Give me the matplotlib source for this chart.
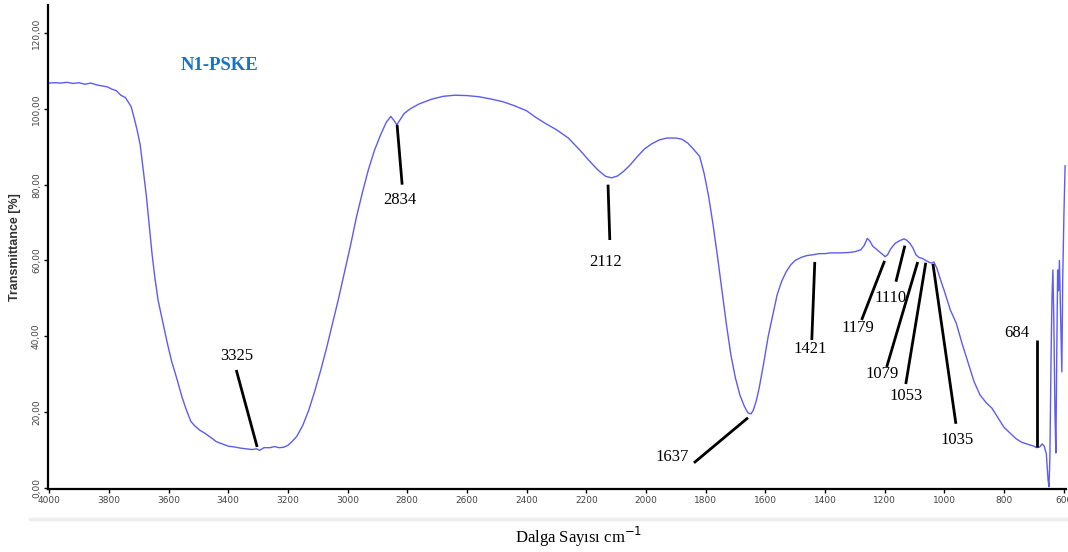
import matplotlib
matplotlib.use("Agg")
import matplotlib.pyplot as plt
from matplotlib.lines import Line2D

# FTIR spectrum (wavenumber cm-1, transmittance %)
wavenumber = [
    4004, 3980, 3960, 3940, 3920, 3900, 3880, 3860, 3840, 3820, 3805, 3790,
    3775, 3760, 3745, 3735, 3725, 3715, 3705, 3695, 3685, 3675, 3665, 3655,
    3645, 3635, 3620, 3605, 3590, 3571, 3555, 3540, 3525, 3510, 3495, 3480,
    3460, 3440, 3420, 3400, 3380, 3360, 3340, 3320, 3305, 3295, 3280, 3260,
    3245, 3230, 3215, 3200, 3185, 3170, 3150, 3130, 3110, 3090, 3070, 3050,
    3030, 3010, 2990, 2970, 2950, 2930, 2910, 2890, 2870, 2855, 2845, 2835,
    2825, 2810, 2790, 2760, 2720, 2680, 2640, 2600, 2560, 2520, 2480, 2440,
    2400, 2370, 2340, 2300, 2260, 2220, 2190, 2160, 2135, 2115, 2095, 2075,
    2055, 2030, 2005, 1980, 1955, 1930, 1900, 1880, 1860, 1840, 1820, 1805,
    1790, 1775, 1760, 1745, 1730, 1715, 1700, 1685, 1670, 1658, 1648, 1640,
    1630, 1620, 1605, 1590, 1575, 1560, 1545, 1530, 1515, 1500, 1480, 1460,
    1440, 1420, 1400, 1380, 1350, 1320, 1300, 1280, 1268, 1258, 1250, 1240,
    1225, 1210, 1198, 1190, 1180, 1165, 1150, 1135, 1125, 1115, 1105, 1095,
    1085, 1075, 1062, 1050, 1042, 1035, 1025, 1015, 1000, 980, 960, 940,
    920, 900, 880, 860, 840, 820, 800, 780, 760, 740, 720, 700,
    690, 680, 672, 665, 658, 652, 649, 646, 642, 639, 636, 633,
    629, 626, 623, 620, 617, 614, 610, 606, 603, 599, 595,
]
transmittance = [
    106.8, 106.9, 106.8, 107.0, 106.7, 106.9, 106.5, 106.8, 106.3, 106.0, 105.8, 105.2,
    104.8, 103.6, 103.0, 101.8, 100.5, 97.5, 94.3, 90.5, 84.0, 77.5, 69.5, 61.5,
    55.0, 49.5, 44.0, 38.5, 33.5, 28.5, 24.0, 20.5, 17.5, 16.2, 15.2, 14.5,
    13.4, 12.2, 11.6, 11.0, 10.8, 10.5, 10.3, 10.1, 10.3, 9.9, 10.6, 10.6,
    10.9, 10.6, 10.7, 11.2, 12.3, 13.6, 16.5, 20.5, 25.5, 31.0, 37.0, 43.5,
    50.0, 57.0, 64.0, 71.5, 78.0, 84.0, 89.0, 93.0, 96.5, 98.0, 97.0, 95.8,
    97.0, 98.8, 100.0, 101.3, 102.5, 103.3, 103.6, 103.5, 103.2, 102.6, 101.9, 100.8,
    99.5, 97.8, 96.3, 94.5, 92.3, 89.0, 86.3, 83.8, 82.2, 81.8, 82.3, 83.5,
    85.0, 87.3, 89.4, 90.8, 91.8, 92.3, 92.3, 92.0, 91.0, 89.3, 87.5, 83.0,
    77.0, 69.5, 61.0, 52.0, 43.0, 35.0, 29.0, 24.5, 21.5, 19.8, 19.5, 20.5,
    23.0, 26.5, 33.0, 40.0, 45.5, 51.0, 54.5, 57.0, 58.8, 60.0, 60.8, 61.3,
    61.5, 61.8, 61.8, 62.0, 62.0, 62.1, 62.3, 62.8, 64.0, 65.8, 65.2, 63.8,
    62.8, 61.8, 61.0, 61.5, 63.0, 64.5, 65.2, 65.7, 65.3, 64.5, 63.3, 61.5,
    60.8, 60.6, 60.0, 59.5, 59.3, 59.6, 58.0, 55.5, 52.0, 47.0, 43.5, 38.0,
    33.0, 28.0, 24.5, 22.5, 21.0, 18.5, 16.0, 14.5, 13.0, 12.0, 11.5, 11.0,
    10.6, 10.8, 11.6, 11.0, 9.0, 2.0, 0.3, 8.0, 35.0, 50.0, 57.5, 45.0,
    20.0, 9.2, 35.0, 57.5, 52.0, 60.0, 45.0, 30.6, 55.0, 72.0, 85.0,
]

# peak labels: text, leader line start/end (data), text centre (data)
peak_labels = ["3325", "2834", "2112", "1637", "1421", "1179", "1110", "1079", "1053", "1035", "684"]
leader_from = [(3303, 10.8), (2834, 95.8), (2127, 80.0), (1658, 18.5), (1434, 59.6), (1200, 59.9),
               (1132, 63.9), (1089, 59.6), (1062, 59.4), (1038, 59.1), (690, 10.8)]
leader_to = [(3373, 31.1), (2817, 80.0), (2121, 65.4), (1839, 6.6), (1444, 39.0), (1277, 44.3),
             (1162, 54.4), (1193, 31.9), (1129, 27.4), (961, 16.9), (690, 39.0)]
label_pos = [(3370, 34.8), (2824, 76.0), (2134, 59.6), (1913, 8.2), (1450, 36.7), (1290, 42.2),
             (1179, 50.1), (1209, 30.1), (1129, 24.3), (957, 12.7), (756, 40.9)]

xticks = list(range(4000, 599, -200))
yticks = [0, 20, 40, 60, 80, 100, 120]

fig = plt.figure(figsize=(10.68, 5.52), dpi=100)
ax = fig.add_axes([48 / 1068, 63 / 552, 1018 / 1068, 484 / 552])

ax.plot(wavenumber, transmittance, color="#5c5cf2", lw=1.0)

for lab, p0, p1, pt in zip(peak_labels, leader_from, leader_to, label_pos):
    ax.plot([p0[0], p1[0]], [p0[1], p1[1]], color="black", lw=2.0, solid_capstyle="butt")
    ax.text(pt[0], pt[1], lab, family="Liberation Serif", fontsize=12,
            ha="center", va="center", color="black")

ax.text(0.169, 0.875, "N1-PSKE", transform=ax.transAxes, family="Liberation Serif",
        fontsize=13.5, fontweight="bold", color="#1a73c2", ha="center", va="center")

ax.set_xlim(4004, 592)
ax.set_ylim(-0.3, 127.4)
ax.set_xticks(xticks)
ax.set_xticklabels([str(v) for v in xticks], fontsize=6.5, color="#444444")
ax.set_yticks(yticks)
ax.set_yticklabels([f"{v},00" for v in yticks], fontsize=6.5, color="#444444",
                   rotation=90, va="center")
ax.tick_params(axis="both", length=3, width=1, pad=2)

for s in ["top", "right"]:
    ax.spines[s].set_visible(False)
for s in ["left", "bottom"]:
    ax.spines[s].set_linewidth(1.6)

ax.set_ylabel("Transmittance [%]", family="Liberation Sans", fontweight="bold",
              fontsize=9, color="#333333", labelpad=8)
fig.text(0.542, 0.027, "Dalga Sayısı cm$^{-1}$", family="Liberation Serif", fontsize=12,
         ha="center", va="center")

fig.add_artist(Line2D([30 / 1068, 1.0], [33 / 552, 33 / 552], color="#ececec", lw=2.5))

fig.savefig("out.png", dpi=100)
